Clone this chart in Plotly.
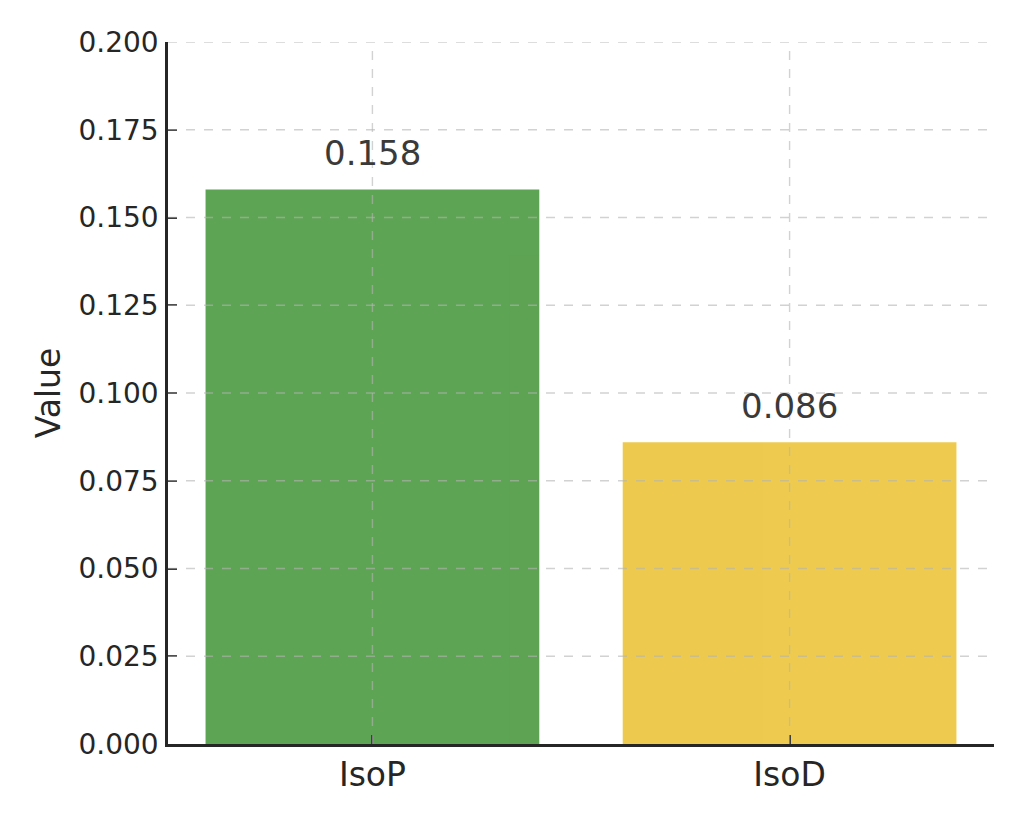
import plotly.graph_objects as go

categories = ["IsoP", "IsoD"]
values = [0.158, 0.086]
colors = ["#59a14f", "#edc948"]
y_ticks = [0.0, 0.025, 0.05, 0.075, 0.1, 0.125, 0.15, 0.175, 0.2]
y_tick_labels = ["0.000", "0.025", "0.050", "0.075", "0.100", "0.125", "0.150", "0.175", "0.200"]

FONT = "DejaVu Sans"
fig = go.Figure()
fig.add_trace(go.Bar(
    x=list(range(len(categories))), y=values,
    marker=dict(color=colors, line=dict(width=0)),
    width=0.8, opacity=0.97, hoverinfo="skip",
))

grid = dict(color="rgba(180,180,180,0.6)", width=1.4, dash="dash")
shapes = []
for t in y_ticks[1:]:
    shapes.append(dict(type="line", xref="paper", x0=0, x1=1, yref="y", y0=t, y1=t,
                       line=grid, layer="above"))
for i in range(len(categories)):
    shapes.append(dict(type="line", xref="x", x0=i, x1=i, yref="paper", y0=0, y1=1,
                       line=grid, layer="above"))

annotations = []
for i, v in enumerate(values):
    annotations.append(dict(x=i, y=v, xref="x", yref="y", text=f"{v:.3f}",
                            showarrow=False, yanchor="bottom", yshift=14,
                            font=dict(family=FONT, size=34, color="#3a3a3a")))

fig.update_layout(
    width=1024, height=819,
    margin=dict(l=168, r=30, t=42, b=75),
    paper_bgcolor="white", plot_bgcolor="white",
    showlegend=False, bargap=0.2,
    shapes=shapes, annotations=annotations,
    font=dict(family=FONT, color="#262626"),
    xaxis=dict(
        range=[-0.49, 1.49], tickmode="array", tickvals=list(range(len(categories))),
        ticktext=categories, tickfont=dict(size=33, color="#262626"),
        showgrid=False, zeroline=False, showline=True, linecolor="#262626", linewidth=2.5,
        ticks="inside", ticklen=9, tickwidth=2, tickcolor="#262626",
        ticklabelstandoff=0,
    ),
    yaxis=dict(
        range=[0, 0.2], tickmode="array", tickvals=y_ticks, ticktext=y_tick_labels,
        tickfont=dict(size=28, color="#262626"),
        showgrid=False, zeroline=False, showline=True, linecolor="#262626", linewidth=2.5,
        ticks="inside", ticklen=9, tickwidth=2, tickcolor="#262626",
        ticklabelstandoff=1,
        title=dict(text="Value", font=dict(size=33, color="#262626"), standoff=8),
    ),
)
fig.write_html("out.html")
